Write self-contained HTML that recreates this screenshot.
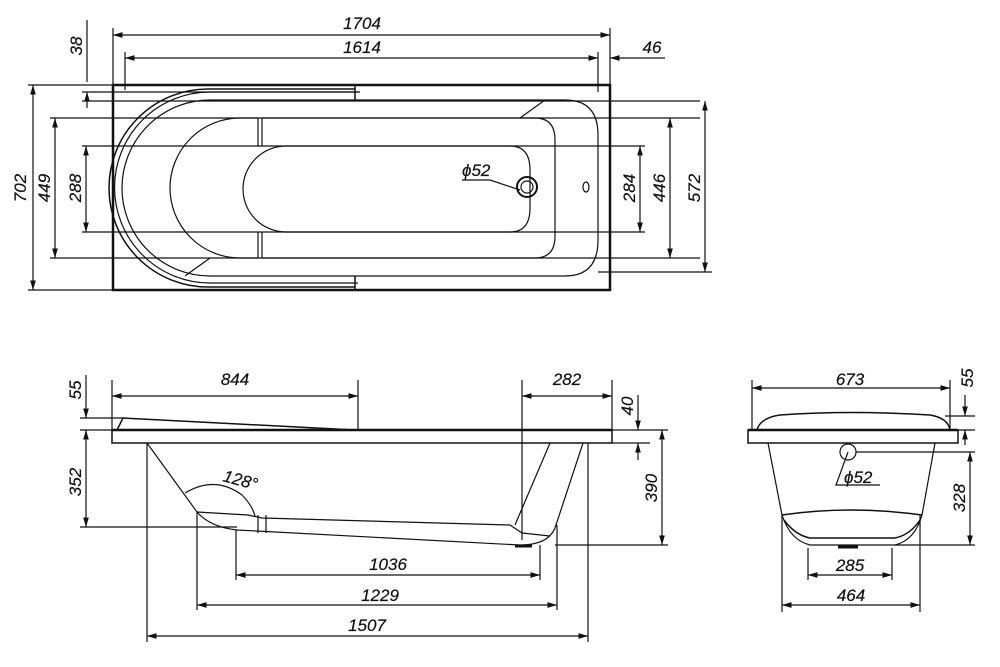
<!DOCTYPE html>
<html><head><meta charset="utf-8"><style>
body{margin:0;background:#fff}
svg{display:block}
text{font-family:"Liberation Sans",sans-serif;font-style:italic;font-size:17px;fill:#111;stroke:#111;stroke-width:0.2}
</style></head><body>
<svg width="1000" height="667" viewBox="0 0 1000 667" xmlns="http://www.w3.org/2000/svg">
<defs><marker id="a" viewBox="0 0 10 6" refX="10" refY="3" markerWidth="8" markerHeight="5" orient="auto-start-reverse"><path d="M0,0L10,3L0,6z" fill="#111"/></marker></defs>
<g stroke="#111" fill="none" stroke-width="1.2">
<!-- TOP VIEW -->
<rect x="113" y="85" width="497" height="205" stroke-width="2.5"/>
<path d="M358,92 H210 A95,95 0 0 0 210,283 H358"/>
<path d="M355,89 H208 A99,99 0 0 0 208,287 H355" stroke-width="1.5"/>
<path d="M262,100 H210 A88,88 0 0 0 210,276 H262"/>
<path d="M355,85 V100 M355,276 V290" stroke-width="1.5"/>
<path d="M262,100 H565 Q598,100 598,135 V240 Q598,276 565,276 H262"/>
<path d="M258,118 H240 A70,70 0 0 0 240,258 H258 M262,118 H535 Q555,118 555,140 V236 Q555,258 535,258 H262"/>
<path d="M258,118 V146 M262,118 V146 M258,232 V258 M262,232 V258"/>
<path d="M520,118 L545,100 M210,258 L185,276"/>
<path d="M286,146 H510 Q530,146 530,170 V208 Q530,232 510,232 H286 A43,43 0 0 1 286,146Z"/>
<circle cx="527" cy="187" r="10" stroke-width="2"/><circle cx="527" cy="187" r="6"/>
<ellipse cx="586" cy="187" rx="3" ry="5"/>
<path d="M462,180 H490 L520,190"/>
<!-- top dims -->
<path d="M113,28 V85 M610,28 V85 M125,52 V90 M598,52 V92"/>
<path d="M113,35 H610" marker-start="url(#a)" marker-end="url(#a)"/>
<path d="M125,58 H598" marker-start="url(#a)" marker-end="url(#a)"/>
<path d="M665,58 H610" marker-end="url(#a)"/>
<path d="M87,20 V82" /><path d="M87,108 V92" marker-end="url(#a)"/>
<path d="M82,92 H360 M82,101 H700"/>
<path d="M28,85 H113 M28,290 H113 M50,118 H700 M50,258 H700 M82,146 H645 M82,232 H645 M598,272 H712"/>
<path d="M33,85 V290" marker-start="url(#a)" marker-end="url(#a)"/>
<path d="M55,118 V258" marker-start="url(#a)" marker-end="url(#a)"/>
<path d="M86,146 V232" marker-start="url(#a)" marker-end="url(#a)"/>
<path d="M640,146 V232" marker-start="url(#a)" marker-end="url(#a)"/>
<path d="M670,118 V258" marker-start="url(#a)" marker-end="url(#a)"/>
<path d="M705,101 V272" marker-start="url(#a)" marker-end="url(#a)"/>
<!-- SIDE VIEW -->
<rect x="112" y="430" width="500" height="13" stroke-width="1.5"/>
<path d="M112,430 H612" stroke-width="2.5"/>
<path d="M117,430 L123,418 L355,430" stroke-width="1.5"/>
<path d="M147,443 L197,512 Q210,527 237,530 L520,545 Q548,545 555,528 L583,443"/>
<path d="M197,512 L248,515 L262,518 L510,525 L522,533 L550,536"/>
<path d="M550,443 L515,525"/>
<path d="M258,515 V533 M266,515 V533"/>
<path d="M185,493 Q215,475 242,495 Q252,505 255,516"/>
<path d="M515,546 H532" stroke-width="3"/>
<path d="M112,380 V430 M358,380 V430 M522,380 V540 M612,380 V430"/>
<path d="M112,396 H358" marker-start="url(#a)" marker-end="url(#a)"/>
<path d="M522,396 H612" marker-start="url(#a)" marker-end="url(#a)"/>
<path d="M80,418 H123 M80,430 H112 M80,527 H237 M612,443 H650 M555,545 H668 M612,430 H668"/>
<path d="M86,375 V405"/><path d="M86,405 V418" marker-end="url(#a)"/>
<path d="M86,430 V527" marker-start="url(#a)" marker-end="url(#a)"/>
<path d="M638,395 V430" marker-end="url(#a)"/><path d="M638,460 V443" marker-end="url(#a)"/>
<path d="M662,430 V545" marker-start="url(#a)" marker-end="url(#a)"/>
<path d="M236,530 V580 M540,545 V580 M197,512 V610 M557,525 V610 M147,443 V642 M588,443 V642"/>
<path d="M236,575 H540" marker-start="url(#a)" marker-end="url(#a)"/>
<path d="M197,605 H557" marker-start="url(#a)" marker-end="url(#a)"/>
<path d="M147,636 H588" marker-start="url(#a)" marker-end="url(#a)"/>
<!-- END VIEW -->
<rect x="748" y="430" width="210" height="13" stroke-width="1.5"/>
<path d="M748,430 H958" stroke-width="2.5"/>
<path d="M757,430 Q760,418 780,415 Q850,410 930,415 Q948,418 950,430" stroke-width="1.5"/>
<path d="M768,443 L782,515 Q790,540 810,545 H895 Q915,540 922,515 L935,443"/>
<path d="M782,515 Q850,505 922,515 M784,520 Q795,535 810,538 H895 Q910,535 920,520" stroke-width="1.5"/>
<path d="M838,547 H858" stroke-width="3"/>
<circle cx="848" cy="452" r="8"/>
<path d="M848,452 L836,485 H880 M856,452 H975 M895,545 H975"/>
<path d="M752,380 V430 M950,380 V430"/>
<path d="M752,388 H950" marker-start="url(#a)" marker-end="url(#a)"/>
<path d="M945,416 H975 M958,430 H975"/>
<path d="M965,395 V416" marker-end="url(#a)"/><path d="M965,445 V430" marker-end="url(#a)"/>
<path d="M970,452 V545" marker-start="url(#a)" marker-end="url(#a)"/>
<path d="M808,548 V580 M892,548 V580 M782,515 V612 M920,515 V612"/>
<path d="M808,575 H892" marker-start="url(#a)" marker-end="url(#a)"/>
<path d="M782,605 H920" marker-start="url(#a)" marker-end="url(#a)"/>
</g>
<g>
<text x="362" y="29" text-anchor="middle">1704</text>
<text x="362" y="53" text-anchor="middle">1614</text>
<text x="652" y="53" text-anchor="middle">46</text>
<text transform="translate(82,46) rotate(-90)" text-anchor="middle">38</text>
<text transform="translate(26,188) rotate(-90)" text-anchor="middle">702</text>
<text transform="translate(50,188) rotate(-90)" text-anchor="middle">449</text>
<text transform="translate(81,188) rotate(-90)" text-anchor="middle">288</text>
<text transform="translate(635,188) rotate(-90)" text-anchor="middle">284</text>
<text transform="translate(665,188) rotate(-90)" text-anchor="middle">446</text>
<text transform="translate(700,188) rotate(-90)" text-anchor="middle">572</text>
<text x="462" y="176">ϕ52</text>
<text x="235" y="385" text-anchor="middle">844</text>
<text x="567" y="385" text-anchor="middle">282</text>
<text transform="translate(81,390) rotate(-90)" text-anchor="middle">55</text>
<text transform="translate(633,406) rotate(-90)" text-anchor="middle">40</text>
<text transform="translate(81,482) rotate(-90)" text-anchor="middle">352</text>
<text transform="translate(657,488) rotate(-90)" text-anchor="middle">390</text>
<text transform="translate(222,481) rotate(15)">128°</text>
<text x="388" y="570" text-anchor="middle">1036</text>
<text x="380" y="601" text-anchor="middle">1229</text>
<text x="367" y="631" text-anchor="middle">1507</text>
<text x="850" y="385" text-anchor="middle">673</text>
<text transform="translate(973,378) rotate(-90)" text-anchor="middle">55</text>
<text transform="translate(965,498) rotate(-90)" text-anchor="middle">328</text>
<text x="844" y="483">ϕ52</text>
<text x="850" y="571" text-anchor="middle">285</text>
<text x="851" y="601" text-anchor="middle">464</text>
</g>
</svg>
</body></html>
